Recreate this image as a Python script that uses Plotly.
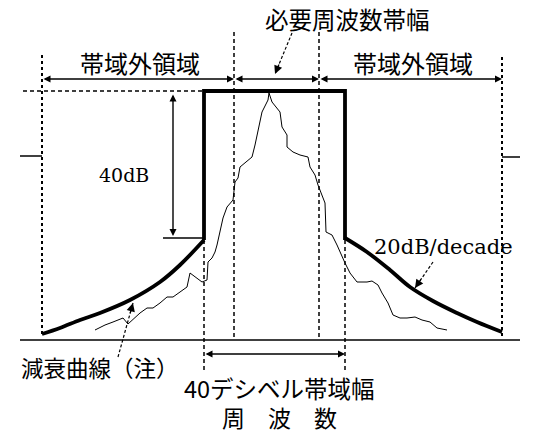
import math
import plotly.graph_objects as go

# ---- data (frequency position, level position; y grows downward) ----
mask_f = [204, 204, 345, 345]
mask_l = [240, 91, 91, 240]

left_env_f = [42, 60, 80, 100, 130, 160, 180, 204]
left_env_l = [334, 328, 320, 313, 300, 282, 265, 240]
right_env_f = [345, 367, 390, 410, 433, 457, 477, 502]
right_env_l = [238, 252, 270, 287, 301, 313, 322, 332]

spec_f = [95, 105, 113, 118, 123, 128, 133, 140, 147, 153, 160, 167, 173, 180, 187, 190,
          195, 202, 207, 208, 212, 215, 217, 220, 223, 227, 233, 235, 238, 240, 245, 252,
          255, 259, 262, 268, 269, 272, 280, 282, 287, 287, 293, 300, 308, 310, 315, 318,
          322, 325, 326, 332, 337, 342, 345, 350, 357, 367, 372, 378, 382, 388, 393, 400,
          407, 415, 422, 430, 437, 447]
spec_l = [330, 325, 322, 320, 318, 324, 319, 313, 308, 308, 303, 297, 297, 292, 287, 273,
          277, 282, 280, 262, 258, 252, 245, 232, 218, 207, 200, 182, 178, 167, 163, 157,
          145, 125, 112, 100, 93, 102, 112, 127, 135, 147, 152, 155, 157, 167, 175, 185,
          195, 203, 232, 235, 245, 257, 263, 273, 282, 282, 281, 285, 293, 303, 315, 318,
          318, 317, 320, 322, 328, 330]

baseline_f = [20, 520]
baseline_l = [340, 340]

# vertical guides: (freq, level_top, level_bottom)
dotted_guides = [(42, 55, 336), (502, 57, 336)]
dashed_guides = [(234, 32, 340), (319, 32, 340), (204, 240, 372), (345, 240, 372)]
top_ref_f = [23, 204]
top_ref_l = [91, 91]
stub_lines = [((20, 42), (156, 156)), ((502, 520), (157, 157)), ((163, 204), (238, 238))]

# double arrows (f0, l0, f1, l1)
double_arrows = [(42, 79, 234, 79), (234, 79, 319, 79), (319, 79, 502, 79),
                 (204, 354, 345, 354), (173, 93, 173, 236)]
# leader arrows (from text to target)
leaders = [(292, 33, 275, 74), (118, 357, 133, 303), (433, 262, 415, 288)]

labels = [
    ("必要周波数帯幅", 347, 19, 23.5, "center"),
    ("帯域外領域", 140, 62, 24, "center"),
    ("帯域外領域", 413, 62, 24, "center"),
    ("減衰曲線（注）", 100, 367, 22.5, "center"),
    ("40デシベル帯域幅", 279, 388, 23.5, "center"),
    ("周　波　数", 279, 417, 23, "center"),
]
latin_labels = [
    ("40dB", 124, 175, 19, "center"),
    ("20dB/decade", 373, 247, 21, "left"),
]

JP = "Noto Sans CJK JP"
SERIF = "DejaVu Serif"

# the page body has an 8px margin; the figure is shrunk by that and the ranges start there
PAGE_OFF = 8
W, H = 533, 433

fig = go.Figure()

def line(x, y, width=1.0, dash="solid", shape="linear"):
    fig.add_trace(go.Scatter(x=x, y=y, mode="lines", hoverinfo="skip",
                             line=dict(color="black", width=width, dash=dash, shape=shape)))

line(baseline_f, baseline_l, 1.5)
for f, t, b in dotted_guides:
    line([f, f], [t, b], 2, "dot")
for f, t, b in dashed_guides:
    line([f, f], [t, b], 1.5, "4px,3px")
line(top_ref_f, top_ref_l, 1.5, "4px,3px")
for xs, ys in stub_lines:
    line(list(xs), list(ys), 1.5)

line(spec_f, spec_l, 1.0)
line(mask_f, mask_l, 3.8)
line(left_env_f, left_env_l, 3.8, shape="spline")
line(right_env_f, right_env_l, 3.8, shape="spline")

for f0, l0, f1, l1 in double_arrows:
    fig.add_annotation(x=f1, y=l1, ax=f0, ay=l0, xref="x", yref="y", axref="x", ayref="y",
                       text="", showarrow=True, arrowside="end+start", arrowhead=2,
                       arrowsize=1, arrowwidth=1.4, arrowcolor="black",
                       standoff=0, startstandoff=0)

# leaders: dashed shaft plus a short solid segment carrying the head
for f0, l0, f1, l1 in leaders:
    line([f0, f1], [l0, l1], 1.2, "3px,2px")
    d = math.hypot(f1 - f0, l1 - l0)
    hf, hl = f1 - (f1 - f0) * 12 / d, l1 - (l1 - l0) * 12 / d
    fig.add_annotation(x=f1, y=l1, ax=hf, ay=hl, xref="x", yref="y", axref="x", ayref="y",
                       text="", showarrow=True, arrowhead=2, arrowsize=1.4, arrowwidth=1.2,
                       arrowcolor="black", standoff=0)

for txt, f, l, size, anchor in labels:
    fig.add_annotation(x=f, y=l, xref="x", yref="y", text=txt, showarrow=False,
                       xanchor=anchor, yanchor="middle", borderpad=0,
                       font=dict(family=JP, size=size, color="black"))
for txt, f, l, size, anchor in latin_labels:
    fig.add_annotation(x=f, y=l, xref="x", yref="y", text=txt, showarrow=False,
                       xanchor=anchor, yanchor="middle", borderpad=0,
                       font=dict(family=SERIF, size=size, color="black"))

fig.update_layout(
    width=W - PAGE_OFF, height=H - PAGE_OFF, margin=dict(l=0, r=0, t=0, b=0),
    paper_bgcolor="white", plot_bgcolor="white", showlegend=False,
    xaxis=dict(range=[PAGE_OFF, W], visible=False, fixedrange=True),
    yaxis=dict(range=[H, PAGE_OFF], visible=False, fixedrange=True),
)

fig.write_html("out.html", config={"displayModeBar": False})
